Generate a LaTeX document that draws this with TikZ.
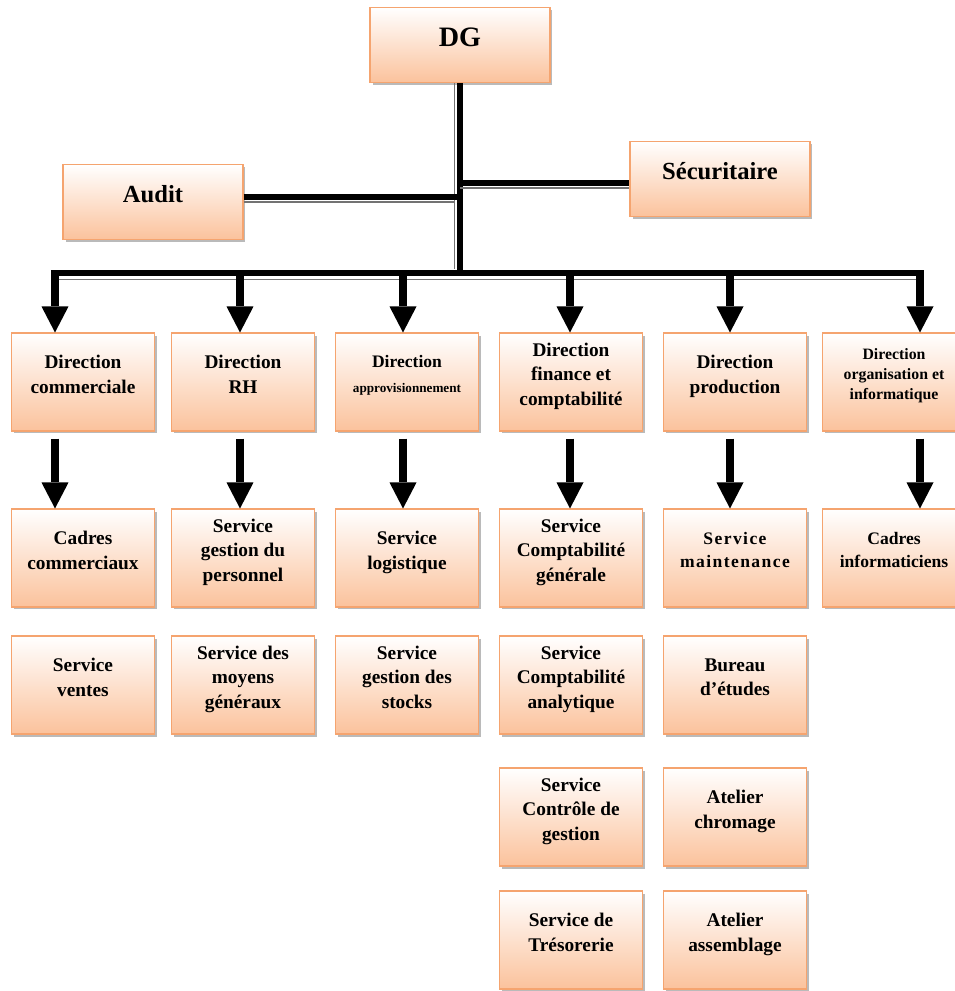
\documentclass[tikz,border=0pt]{standalone}
\usepackage{fontspec}
\setmainfont{Liberation Serif}
\usetikzlibrary{arrows.meta,shadows}

\definecolor{boxline}{HTML}{F5A46F}
\definecolor{boxfill}{HTML}{FBC29C}

\tikzset{
	orgbox/.style = {draw=boxline, line width=0.6pt, top color=white, bottom color=boxfill,
	                 drop shadow={shadow xshift=0.05cm, shadow yshift=-0.05cm, fill=black!45, opacity=0.6},
	                 align=center, font=\bfseries\fontsize{11}{14}\selectfont,
	                 minimum width=2.86cm, minimum height=1.96cm, inner sep=1pt,
	                 execute at end node={\rule[-9pt]{0pt}{0pt}}},
	topbox/.style = {orgbox, minimum width=3.6cm, minimum height=1.5cm},
	 heavy/.style = {line width=0.11cm},
	 light/.style = {line width=0.035cm, black!55},
	  drop/.style = {line width=0.17cm, -{Triangle[width=0.54cm, length=0.52cm, line width=0pt]}},
}

\begin{document}
\begin{tikzpicture}[x=0.02cm, y=-0.02cm]
	\useasboundingbox (0,0) rectangle (955,991);

	% top of the chart
	\node[topbox, font=\bfseries\fontsize{16}{19}\selectfont] (dg) at (460,45) {DG};
	\node[topbox, font=\bfseries\fontsize{14}{17}\selectfont] (audit) at (153,202) {Audit};
	\node[topbox, font=\bfseries\fontsize{14}{17}\selectfont] (secu) at (720,179) {Sécuritaire};

	% directions
	\node[orgbox] (dcom) at (83,382) {Direction\\commerciale};
	\node[orgbox] (drh) at (243,382) {Direction\\RH};
	\node[orgbox] (dappro) at (407,382) {{\fontsize{10}{12}\selectfont Direction}\\{\fontsize{7.5}{10}\selectfont approvisionnement}};
	\node[orgbox] (dfin) at (571,382) {Direction\\finance et\\comptabilité};
	\node[orgbox] (dprod) at (735,382) {Direction\\production};
	\node[orgbox, font=\bfseries\fontsize{9}{11.3}\selectfont] (dinfo) at (894,382) {Direction\\organisation et\\informatique};

	% services
	\node[orgbox] (ccom) at (83,558) {Cadres\\commerciaux};
	\node[orgbox] (sgp) at (243,558) {Service\\gestion du\\personnel};
	\node[orgbox] (slog) at (407,558) {Service\\logistique};
	\node[orgbox] (scg) at (571,558) {Service\\Comptabilité\\générale};
	\node[orgbox, font=\bfseries\fontsize{10}{13}\selectfont\addfontfeatures{LetterSpace=8}] (smaint) at (735,558) {Service\\maintenance};
	\node[orgbox, font=\bfseries\fontsize{10}{13}\selectfont] (cinfo) at (894,558) {Cadres\\informaticiens};

	\node[orgbox] (svente) at (83,685) {Service\\ventes};
	\node[orgbox] (smg) at (243,685) {Service des\\moyens\\généraux};
	\node[orgbox] (sstock) at (407,685) {Service\\gestion des\\stocks};
	\node[orgbox] (sca) at (571,685) {Service\\Comptabilité\\analytique};
	\node[orgbox] (bet) at (735,685) {Bureau\\d’études};

	\node[orgbox] (scdg) at (571,817) {Service\\Contrôle de\\gestion};
	\node[orgbox] (achrom) at (735,817) {Atelier\\chromage};

	\node[orgbox] (stres) at (571,940) {Service de\\Trésorerie};
	\node[orgbox] (aass) at (735,940) {Atelier\\assemblage};

	% links
	\coordinate (b1) at (55,273);
	\coordinate (b2) at (240,273);
	\coordinate (b3) at (403,273);
	\coordinate (b4) at (570,273);
	\coordinate (b5) at (730,273);
	\coordinate (b6) at (920,273);

	\draw[light] ([xshift=-0.11cm]dg.south) -- ([xshift=-0.11cm, yshift=0.08cm]dg.south |- b1);
	\draw[heavy] (dg.south) -- (dg.south |- b1);
	\draw[heavy] ([yshift=0.1cm]audit.east) -- ([yshift=0.1cm]audit.east -| dg.south);
	\draw[light] (audit.east) -- ([xshift=-0.11cm]audit.east -| dg.south);
	\draw[heavy] ([yshift=-0.08cm]secu.west -| dg.south) -- ([yshift=-0.08cm]secu.west);
	\draw[light] ([yshift=-0.18cm]secu.west -| dg.south) -- ([yshift=-0.18cm]secu.west);

	\draw[heavy] ([xshift=-0.085cm]b1) -- ([xshift=0.085cm]b6);
	\draw[light] ([yshift=-0.13cm]b1) -- ([yshift=-0.13cm]b6);

	\foreach \b/\d in {b1/dcom, b2/drh, b3/dappro, b4/dfin, b5/dprod, b6/dinfo}
		\draw[drop] (\b) -- (\b |- \d.north);

	\foreach \b/\d/\s in {b1/dcom/ccom, b2/drh/sgp, b3/dappro/slog, b4/dfin/scg, b5/dprod/smaint, b6/dinfo/cinfo}
		\draw[drop, shorten <=0.14cm] (\b |- \d.south) -- (\b |- \s.north);
\end{tikzpicture}
\end{document}
